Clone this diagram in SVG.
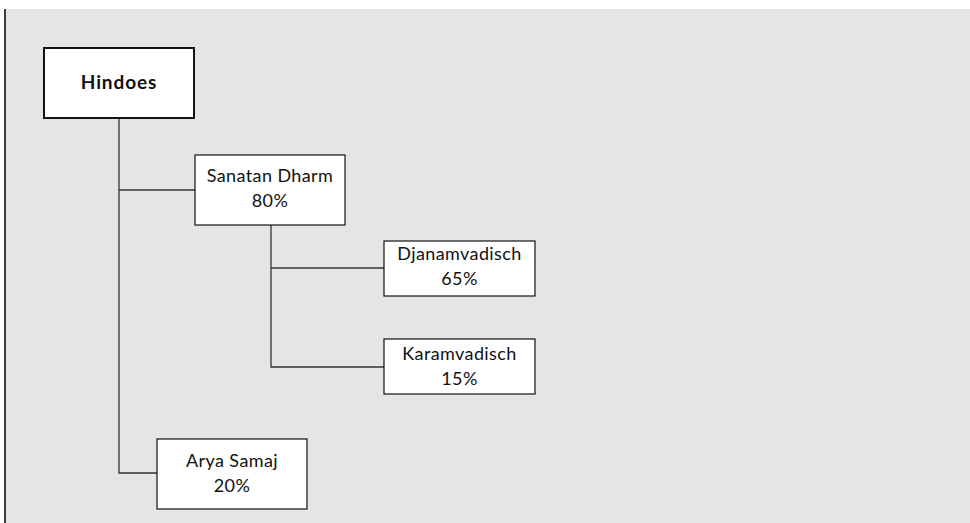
<svg xmlns="http://www.w3.org/2000/svg" width="970" height="523" viewBox="0 0 970 523">
<style>
.box{fill:#fff;stroke:#111;stroke-width:1.2}
.root{fill:#fff;stroke:#111;stroke-width:2}
.t{font-family:Lato,"Noto Sans",sans-serif;font-size:18px;letter-spacing:0.4px;fill:#111;text-anchor:middle}
.b{font-weight:bold;font-size:19px;letter-spacing:0.9px}
.c{fill:none;stroke:#333;stroke-width:1.3}
</style>
<rect x="5" y="9" width="965" height="514" fill="#e5e5e5"/>
<line x1="5" y1="9" x2="5" y2="523" stroke="#111" stroke-width="1.6"/>
<g id="connectors">
<path class="c" d="M119 118 V473 H157"/>
<path class="c" d="M119 190 H195"/>
<path class="c" d="M271 225 V367 H384"/>
<path class="c" d="M271 268 H384"/>
</g>
<g id="hindoes">
<rect class="root" x="44" y="48" width="150" height="70"/>
<text class="t b" x="119" y="89">Hindoes</text>
</g>
<g id="sanatan">
<rect class="box" x="195" y="155" width="150" height="70"/>
<text class="t" x="270" y="182">Sanatan Dharm</text>
<text class="t" x="270" y="207">80%</text>
</g>
<g id="djanam">
<rect class="box" x="384" y="241" width="151" height="55"/>
<text class="t" x="459.5" y="260">Djanamvadisch</text>
<text class="t" x="459.5" y="285">65%</text>
</g>
<g id="karam">
<rect class="box" x="384" y="339" width="151" height="55"/>
<text class="t" x="459.5" y="360">Karamvadisch</text>
<text class="t" x="459.5" y="385">15%</text>
</g>
<g id="arya">
<rect class="box" x="157" y="439" width="150" height="70"/>
<text class="t" x="232" y="467">Arya Samaj</text>
<text class="t" x="232" y="492">20%</text>
</g>
</svg>
